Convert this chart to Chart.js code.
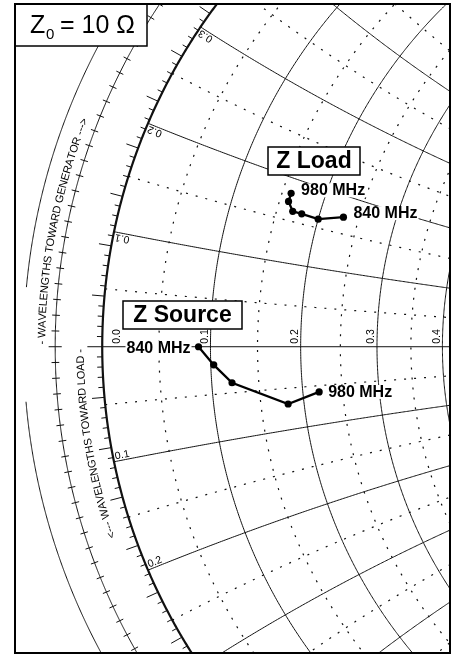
<!DOCTYPE html>
<html>
<head>
<meta charset="utf-8">
<script src="https://cdn.jsdelivr.net/npm/chart.js@4.4.1/dist/chart.umd.min.js"></script>
<style>
  html, body { margin: 0; padding: 0; background: #fff; }
  #wrap { width: 453px; height: 656px; }
</style>
</head>
<body>
<div id="wrap"><canvas id="smith" width="453" height="656"></canvas></div>
<script>
/* ── Data: normalised impedances (Z0 = 10 ohm), 840 -> 980 MHz ── */
const loadR = [0.230, 0.200, 0.179, 0.168, 0.160, 0.160];
const loadX = [0.172, 0.161, 0.162, 0.162, 0.172, 0.182];
const sourceR = [0.088, 0.103, 0.121, 0.181, 0.220];
const sourceX = [0.000, -0.019, -0.039, -0.069, -0.058];
const endLabels = ["840 MHz", "980 MHz"];

/* ── Smith grid values ── */
const solidR = [0.1, 0.2, 0.3, 0.4, 0.5];
const dottedR = [0.05, 0.15, 0.25, 0.35, 0.45];
const solidX = [0.1, 0.2, 0.3, 0.4, 0.5, -0.1, -0.2, -0.3, -0.4, -0.5];
const dottedX = [0.05, 0.15, 0.25, 0.35, 0.45, -0.05, -0.15, -0.25, -0.35, -0.45];
const rLabelVals = [0.0, 0.1, 0.2, 0.3, 0.4];
const xLabelVals = [0.1, 0.2, 0.3, -0.1, -0.2];

const GEN_TEXT = "- WAVELENGTHS TOWARD GENERATOR --->";
const LOAD_TEXT = "<--- WAVELENGTHS TOWARD LOAD -";

// visible window of the reflection-coefficient plane
const U_MIN = -1.165, U_MAX = -0.4175;
const V_MIN = -0.5255, V_MAX = 0.590;

const RHO_TICK = 1.079;   // wavelength tick circle
const RHO_OUTER = 1.132;  // outer thin circle
const FRAME = { l: 15, t: 4, r: 450, b: 653 };

function gam(r, x) {
  const d = (r + 1) * (r + 1) + x * x;
  return { x: (r * r + x * x - 1) / d, y: (2 * x) / d };
}

const loadPts = loadR.map((r, i) => gam(r, loadX[i]));
const sourcePts = sourceR.map((r, i) => gam(r, sourceX[i]));

function toPx(chart, p) {
  return [chart.scales.x.getPixelForValue(p.x), chart.scales.y.getPixelForValue(p.y)];
}
function polar(rho, deg) {
  const t = (deg * Math.PI) / 180;
  return { x: rho * Math.cos(t), y: rho * Math.sin(t) };
}

function strokePts(ctx, chart, pts) {
  ctx.beginPath();
  pts.forEach((p, i) => {
    const [a, b] = toPx(chart, p);
    if (i === 0) ctx.moveTo(a, b);
    else ctx.lineTo(a, b);
  });
  ctx.stroke();
}
function rCircle(r) {
  const pts = [];
  for (let x = -3; x <= 3.0001; x += 0.002) pts.push(gam(r, x));
  return pts;
}
function xArc(x) {
  const pts = [];
  for (let r = 0; r <= 2.0001; r += 0.002) pts.push(gam(r, x));
  return pts;
}
function ring(rho, from, to) {
  const pts = [];
  for (let d = from; d <= to + 1e-9; d += 0.1) pts.push(polar(rho, d));
  return pts;
}

/* ── Grid plugin ── */
const smithGrid = {
  id: "smithGrid",
  beforeDatasetsDraw(chart) {
    const ctx = chart.ctx;
    ctx.save();
    ctx.beginPath();
    ctx.rect(FRAME.l, FRAME.t, FRAME.r - FRAME.l, FRAME.b - FRAME.t);
    ctx.clip();
    ctx.strokeStyle = "#111";
    ctx.lineCap = "butt";

    // dotted fine grid
    ctx.lineWidth = 1.2;
    ctx.setLineDash([2, 8]);
    dottedR.forEach((r) => strokePts(ctx, chart, rCircle(r)));
    dottedX.forEach((x) => strokePts(ctx, chart, xArc(x)));
    ctx.setLineDash([]);

    // solid grid
    ctx.lineWidth = 1;
    solidR.forEach((r) => strokePts(ctx, chart, rCircle(r)));
    solidX.forEach((x) => strokePts(ctx, chart, xArc(x)));
    strokePts(ctx, chart, [{ x: -1.025, y: 0 }, { x: 1, y: 0 }]);

    // outer rings
    strokePts(ctx, chart, ring(RHO_TICK, 100, 260));
    strokePts(ctx, chart, ring(RHO_OUTER, 100, 174.8));
    strokePts(ctx, chart, ring(RHO_OUTER, 184.8, 260));

    // ticks on the wavelength ring
    for (let k = -60; k <= 60; k++) {
      const deg = 180 + k * 1.44;
      const h = k === 0 ? 0.011 : 0.0065;
      strokePts(ctx, chart, [polar(RHO_TICK - h, deg), polar(RHO_TICK + h, deg)]);
    }
    // ticks outside the unit circle (degrees)
    for (let k = -50; k <= 50; k++) {
      if (k === 0) continue;
      const len = k % 5 === 0 ? 0.021 : 0.009;
      strokePts(ctx, chart, [polar(1, 180 + k), polar(1 + len, 180 + k)]);
    }

    // unit circle
    ctx.lineWidth = 2.2;
    strokePts(ctx, chart, rCircle(0));
    ctx.restore();
  },
};

function arcText(ctx, chart, str, rho, startDeg) {
  // characters run toward decreasing angle, tops pointing outward
  let deg = startDeg;
  const pxPerDeg = (rho * 597 * Math.PI) / 180;
  for (const ch of str) {
    const w = ctx.measureText(ch).width;
    const mid = deg - w / 2 / pxPerDeg;
    const [ax, ay] = toPx(chart, polar(rho, mid + 0.05));
    const [bx, by] = toPx(chart, polar(rho, mid - 0.05));
    const [cx, cy] = toPx(chart, polar(rho, mid));
    ctx.save();
    ctx.translate(cx, cy);
    ctx.rotate(Math.atan2(by - ay, bx - ax));
    ctx.fillText(ch, -w / 2, 0);
    ctx.restore();
    deg -= w / pxPerDeg;
  }
}

function labelBox(ctx, text, x, y, font) {
  ctx.font = font;
  const w = ctx.measureText(text).width;
  ctx.fillStyle = "#fff";
  ctx.fillRect(x - 1, y - 12, w + 2, 14);
  ctx.fillStyle = "#000";
  ctx.fillText(text, x, y);
  return w;
}

/* ── Labels plugin ── */
const smithLabels = {
  id: "smithLabels",
  afterDatasetsDraw(chart) {
    const ctx = chart.ctx;
    ctx.save();
    ctx.fillStyle = "#000";
    ctx.textBaseline = "alphabetic";

    // scale texts
    ctx.font = "11px Arial, 'Liberation Sans', sans-serif";
    ctx.textAlign = "left";
    arcText(ctx, chart, GEN_TEXT, 1.0957, 179.8);
    const loadW = ctx.measureText(LOAD_TEXT).width;
    arcText(ctx, chart, LOAD_TEXT, 1.031, 180.4 + loadW / ((1.031 * 597 * Math.PI) / 180));

    // reactance labels on the unit circle
    ctx.font = "10.5px Arial, 'Liberation Sans', sans-serif";
    xLabelVals.forEach((x) => {
      const [px, py] = toPx(chart, gam(0, x));
      const [qx, qy] = toPx(chart, gam(0.02, x));
      const a = Math.atan2(qy - py, qx - px);
      const txt = Math.abs(x).toFixed(1);
      ctx.save();
      ctx.translate(px, py);
      if (x < 0) {
        ctx.rotate(a);
        ctx.textAlign = "left";
        ctx.fillText(txt, 2, -2);
      } else {
        ctx.rotate(a + Math.PI);
        ctx.textAlign = "right";
        ctx.fillText(txt, -2, -2);
      }
      ctx.restore();
    });

    // resistance labels along the real axis
    rLabelVals.forEach((r) => {
      const [px, py] = toPx(chart, gam(r, 0));
      ctx.save();
      ctx.translate(r === 0 ? px + 18 : px - 2.5, py - 3);
      ctx.rotate(-Math.PI / 2);
      ctx.textAlign = "left";
      ctx.fillText(r.toFixed(1), 0, 0);
      ctx.restore();
    });

    // frequency labels
    ctx.textAlign = "left";
    const bold = "bold 16px Arial, 'Liberation Sans', sans-serif";
    ctx.font = bold;
    const s0 = toPx(chart, sourcePts[0]);
    const s1 = toPx(chart, sourcePts[sourcePts.length - 1]);
    const l0 = toPx(chart, loadPts[0]);
    const l1 = toPx(chart, loadPts[loadPts.length - 1]);
    const w840 = ctx.measureText(endLabels[0]).width;
    labelBox(ctx, endLabels[0], s0[0] - 8 - w840, s0[1] + 6, bold);
    labelBox(ctx, endLabels[1], s1[0] + 9, s1[1] + 5, bold);
    labelBox(ctx, endLabels[0], l0[0] + 10, l0[1] + 1, bold);
    labelBox(ctx, endLabels[1], l1[0] + 10, l1[1] + 2, bold);

    // name boxes
    const big = "bold 23px Arial, 'Liberation Sans', sans-serif";
    [["Z Load", 268, 147, 360, 175], ["Z Source", 123, 301, 242, 329]].forEach(([t, x0, y0, x1, y1]) => {
      ctx.fillStyle = "#fff";
      ctx.fillRect(x0, y0, x1 - x0, y1 - y0);
      ctx.strokeStyle = "#000";
      ctx.lineWidth = 1.5;
      ctx.strokeRect(x0, y0, x1 - x0, y1 - y0);
      ctx.fillStyle = "#000";
      ctx.font = big;
      ctx.textAlign = "center";
      ctx.fillText(t, (x0 + x1) / 2, y1 - 7);
    });

    // Z0 box
    ctx.fillStyle = "#fff";
    ctx.fillRect(FRAME.l, FRAME.t, 132, 42);
    ctx.strokeStyle = "#000";
    ctx.lineWidth = 1.5;
    ctx.strokeRect(FRAME.l, FRAME.t, 132, 42);
    ctx.fillStyle = "#000";
    ctx.textAlign = "left";
    ctx.font = "25px Arial, 'Liberation Sans', sans-serif";
    ctx.fillText("Z", 30, 33);
    ctx.fillText("= 10 \u03A9", 60, 33);
    ctx.font = "15px Arial, 'Liberation Sans', sans-serif";
    ctx.fillText("0", 46, 39);

    // frame
    ctx.lineWidth = 2;
    ctx.strokeRect(FRAME.l, FRAME.t, FRAME.r - FRAME.l, FRAME.b - FRAME.t);
    ctx.restore();
  },
};

new Chart(document.getElementById("smith").getContext("2d"), {
  type: "scatter",
  data: {
    datasets: [
      {
        label: "Z Load",
        data: loadPts,
        showLine: true,
        borderColor: "#000",
        backgroundColor: "#000",
        borderWidth: 2.3,
        pointRadius: 3.6,
        pointBorderWidth: 0,
      },
      {
        label: "Z Source",
        data: sourcePts,
        showLine: true,
        borderColor: "#000",
        backgroundColor: "#000",
        borderWidth: 2.3,
        pointRadius: 3.6,
        pointBorderWidth: 0,
      },
    ],
  },
  options: {
    responsive: false,
    animation: false,
    layout: { padding: 0 },
    scales: {
      x: { type: "linear", min: U_MIN, max: U_MAX, display: false },
      y: { type: "linear", min: V_MIN, max: V_MAX, display: false },
    },
    plugins: { legend: { display: false }, tooltip: { enabled: false } },
  },
  plugins: [smithGrid, smithLabels],
});
</script>
</body>
</html>
